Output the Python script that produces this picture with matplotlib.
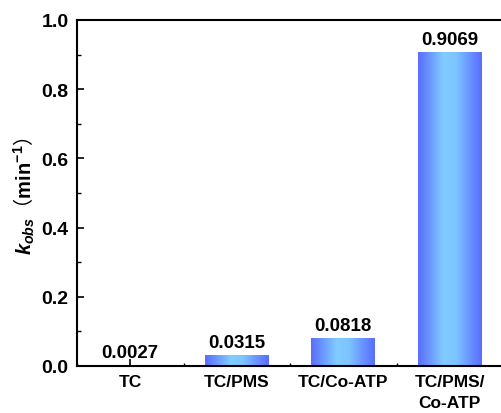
import matplotlib
matplotlib.use('Agg')
import matplotlib.pyplot as plt
import numpy as np
from matplotlib.colors import LinearSegmentedColormap
from matplotlib.ticker import MultipleLocator, FormatStrFormatter

categories = ['TC', 'TC/PMS', 'TC/Co-ATP', 'TC/PMS/\nCo-ATP']
k_obs = [0.0027, 0.0315, 0.0818, 0.9069]
value_labels = ['0.0027', '0.0315', '0.0818', '0.9069']

plt.rcParams['font.family'] = ['Liberation Sans', 'Noto Sans CJK SC']
plt.rcParams['font.weight'] = 'bold'
plt.rcParams['mathtext.fontset'] = 'custom'
plt.rcParams['mathtext.rm'] = 'Liberation Sans:bold'
plt.rcParams['mathtext.it'] = 'Liberation Sans:bold:italic'

fig = plt.figure(figsize=(5.01, 4.14), dpi=100)
W, H = 501, 414
ax = fig.add_axes([77 / W, (H - 367) / H, 426 / W, 346 / H])

x = np.arange(len(categories))
width = 0.6
bars = ax.bar(x, k_obs, width=width, color='none', edgecolor='none')

# horizontal gradient inside each bar
cmap = LinearSegmentedColormap.from_list(
    'bar', ['#5a6cff', '#6c9cff', '#80ccff', '#7cc4ff', '#6a96ff', '#5a6cff'])
grad = np.linspace(0, 1, 256).reshape(1, -1)
for b in bars:
    x0, y0 = b.get_x(), b.get_y()
    w, h = b.get_width(), b.get_height()
    im = ax.imshow(grad, cmap=cmap, aspect='auto',
                   extent=[x0, x0 + w, y0, y0 + h], zorder=2)
    im.set_clip_path(b)

for xi, v, lab in zip(x, k_obs, value_labels):
    ax.annotate(lab, (xi, v), xytext=(0, 3), textcoords='offset points',
                ha='center', va='bottom', fontsize=13.5, fontweight='bold')

ax.set_xlim(-0.5, 3.5)
ax.set_ylim(0, 1.0)
ax.set_xticks(x)
ax.set_xticklabels(categories, fontsize=12.5, fontweight='bold', linespacing=1.5)
ax.xaxis.set_minor_locator(MultipleLocator(1, offset=0.5))
ax.yaxis.set_major_locator(MultipleLocator(0.2))
ax.yaxis.set_minor_locator(MultipleLocator(0.1))
ax.yaxis.set_major_formatter(FormatStrFormatter('%.1f'))

ax.tick_params(axis='both', which='major', direction='in', length=5, width=1.2, pad=6)
ax.tick_params(axis='y', which='major', labelsize=14, pad=6)
ax.tick_params(axis='both', which='minor', direction='in', length=3, width=1.0)
ax.tick_params(axis='x', which='minor', length=2)
for s in ax.spines.values():
    s.set_linewidth(1.5)

# parens are full-width, taken from the CJK font; the rest goes through mathtext
ax.set_ylabel(r'$k_{obs}$（$\mathrm{min}^{-1}$）', fontsize=14.5, fontweight='normal',
              family='Noto Sans CJK SC')
ax.yaxis.set_label_coords(-0.094, 0.493)

fig.savefig('out.png', dpi=100)
